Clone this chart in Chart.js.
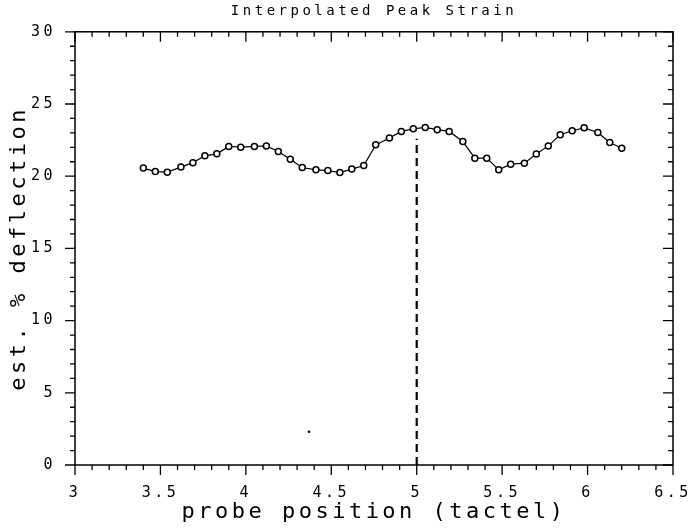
<!DOCTYPE html>
<html>
<head>
<meta charset="utf-8">
<script src="https://cdn.jsdelivr.net/npm/chart.js@4/dist/chart.umd.min.js"></script>
<style>
  body { margin: 0; background: #fff; }
</style>
</head>
<body>
<canvas id="myChart" width="691" height="529"></canvas>
<script>
const positions = [3.40, 3.47, 3.54, 3.62, 3.69, 3.76, 3.83, 3.90, 3.97, 4.05,
    4.12, 4.19, 4.26, 4.33, 4.41, 4.48, 4.55, 4.62, 4.69, 4.76,
    4.84, 4.91, 4.98, 5.05, 5.12, 5.19, 5.27, 5.34, 5.41, 5.48,
    5.55, 5.63, 5.70, 5.77, 5.84, 5.91, 5.98, 6.06, 6.13, 6.20]
const deflection = [20.56, 20.32, 20.28, 20.63, 20.94, 21.41, 21.55, 22.06, 22.01, 22.06,
    22.10, 21.71, 21.18, 20.60, 20.44, 20.39, 20.25, 20.49, 20.74, 22.17,
    22.64, 23.10, 23.28, 23.38, 23.22, 23.10, 22.40, 21.25, 21.25, 20.44,
    20.83, 20.90, 21.53, 22.10, 22.87, 23.15, 23.35, 23.03, 22.33, 21.94]
// dashed marker at the peak position, and the stray dot near the bottom
const markerX = [5, 5]
const markerY = [0, 22.6]
const strayX = [4.37]
const strayY = [2.3]

const xTickValues = [3, 3.5, 4, 4.5, 5, 5.5, 6, 6.5]
const xTickLabels = ['3', '3.5', '4', '4.5', '5', '5.5', '6', '6.5']
const yTickValues = [0, 5, 10, 15, 20, 25, 30]
const yTickLabels = ['0', '5', '10', '15', '20', '25', '30']

const fontFamily = '"DejaVu Sans Mono", "Liberation Mono", monospace'

function findLabel(values, labels, v) {
    for (let i = 0; i < values.length; i++) {
        if (Math.abs(values[i] - v) < 1e-6) return labels[i]
    }
    return null
}

// wider letter spacing like the old plotter font
const spacing = {
    id: 'spacing',
    beforeLayout(chart) { chart.ctx.letterSpacing = '3.5px' },
    beforeDraw(chart) { chart.ctx.letterSpacing = '3.5px' }
}

// frame + major/minor ticks on all four sides
const frame = {
    id: 'frame',
    afterDraw(chart) {
        const ctx = chart.ctx
        const a = chart.chartArea
        const xs = chart.scales.x, ys = chart.scales.y
        ctx.save()
        ctx.strokeStyle = '#000'
        ctx.lineWidth = 1.5
        ctx.strokeRect(a.left, a.top, a.right - a.left, a.bottom - a.top)
        ctx.lineWidth = 1.3
        ctx.beginPath()
        xs.ticks.forEach(t => {
            const px = xs.getPixelForValue(t.value)
            const len = findLabel(xTickValues, xTickLabels, t.value) !== null ? 10 : 5
            ctx.moveTo(px, a.bottom); ctx.lineTo(px, a.bottom + len)
            ctx.moveTo(px, a.top); ctx.lineTo(px, a.top + len)
        })
        ys.ticks.forEach(t => {
            const py = ys.getPixelForValue(t.value)
            const len = findLabel(yTickValues, yTickLabels, t.value) !== null ? 10 : 5
            ctx.moveTo(a.left, py); ctx.lineTo(a.left - len, py)
            ctx.moveTo(a.right, py); ctx.lineTo(a.right - len, py)
        })
        ctx.stroke()
        ctx.restore()
    }
}

const config = {
    type: 'scatter',
    data: {
        datasets: [{
            label: 'peak strain',
            data: positions.map((x, i) => ({ x: x, y: deflection[i] })),
            showLine: true,
            borderColor: '#000',
            borderWidth: 1.2,
            pointRadius: 3,
            pointBorderWidth: 1.5,
            pointBorderColor: '#000',
            pointBackgroundColor: '#fff'
        }, {
            label: 'marker',
            data: markerX.map((x, i) => ({ x: x, y: markerY[i] })),
            showLine: true,
            borderColor: '#000',
            borderWidth: 2.2,
            borderDash: [8, 5],
            pointRadius: 0
        }, {
            label: 'dot',
            data: strayX.map((x, i) => ({ x: x, y: strayY[i] })),
            pointRadius: 1.3,
            pointBorderWidth: 0,
            pointBackgroundColor: '#000'
        }]
    },
    options: {
        responsive: false,
        animation: false,
        layout: { padding: { right: 18 } },
        plugins: {
            legend: { display: false },
            tooltip: { enabled: false },
            title: {
                display: true,
                text: 'Interpolated Peak Strain',
                fullSize: false,
                color: '#000',
                font: { family: fontFamily, size: 14, weight: 'normal' },
                padding: { top: 3, bottom: 12 }
            }
        },
        scales: {
            x: {
                type: 'linear',
                min: 3,
                max: 6.5,
                afterFit: s => {
                    s.height = 64
                    s.paddingLeft = 0
                    s.paddingRight = 0
                },
                grid: { display: false },
                border: { display: false },
                ticks: {
                    stepSize: 0.1,
                    autoSkip: false,
                    maxRotation: 0,
                    padding: 11,
                    color: '#000',
                    font: { family: fontFamily, size: 15 },
                    callback: v => findLabel(xTickValues, xTickLabels, v) || ''
                },
                title: {
                    display: true,
                    text: 'probe position (tactel)',
                    color: '#000',
                    font: { family: fontFamily, size: 22 },
                    padding: { top: 0, bottom: 4 }
                }
            },
            y: {
                min: 0,
                max: 30,
                afterFit: s => { s.width = 75 },
                grid: { display: false },
                border: { display: false },
                ticks: {
                    stepSize: 1,
                    autoSkip: false,
                    padding: 11,
                    color: '#000',
                    font: { family: fontFamily, size: 15 },
                    callback: v => findLabel(yTickValues, yTickLabels, v) || ''
                },
                title: {
                    display: true,
                    text: 'est. % deflection',
                    color: '#000',
                    font: { family: fontFamily, size: 22 },
                    padding: { top: 6, bottom: 0 }
                }
            }
        }
    },
    plugins: [spacing, frame]
}

const myChart = new Chart(document.querySelector('#myChart'), config)
</script>
</body>
</html>
